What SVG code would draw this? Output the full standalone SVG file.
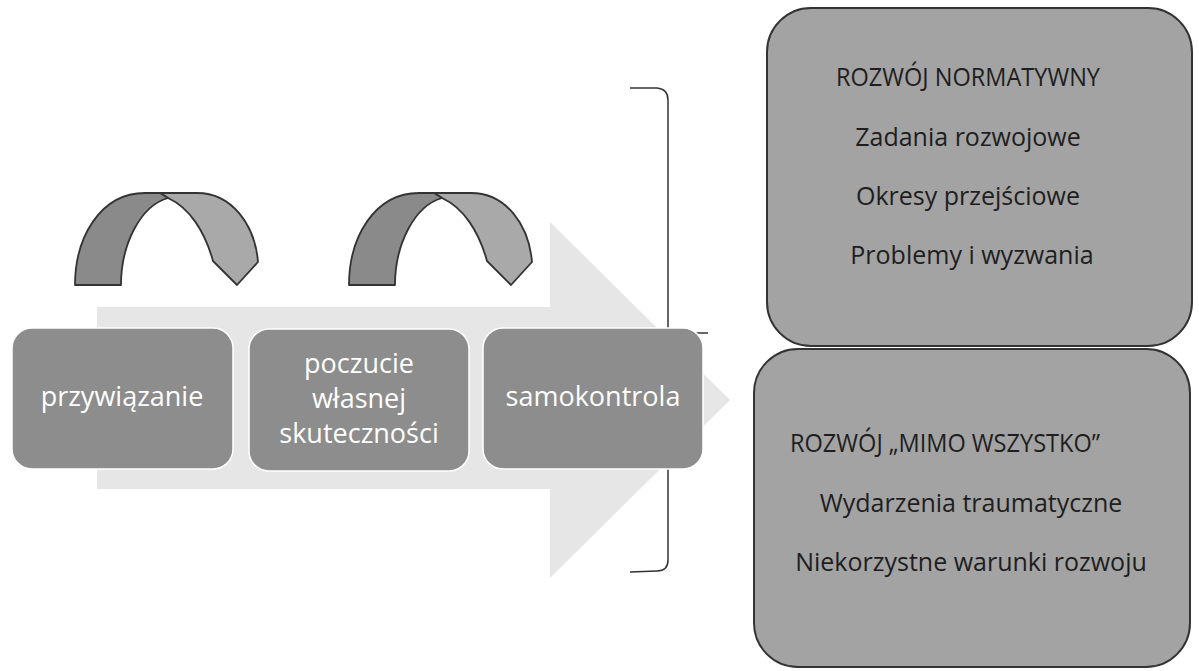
<svg xmlns="http://www.w3.org/2000/svg" width="1199" height="671" viewBox="0 0 1199 671">
  <style>
    .bg { fill: #ffffff; }
    .bigarrow { fill: #e6e6e6; }
    .stage { fill: #8d8d8d; stroke: #ffffff; stroke-width: 1.5; }
    .stage-text { font-family: "Open Sans", "Noto Sans", sans-serif; font-size: 27px; fill: #ffffff; text-anchor: middle; }
    .panel { fill: #a3a3a3; stroke: #333333; stroke-width: 2; }
    .panel-text { font-family: "Open Sans", "Noto Sans", sans-serif; font-size: 25px; fill: #1e1e1e; text-anchor: middle; }
    .arch-dark { fill: #8a8a8a; stroke: #333333; stroke-width: 1.8; stroke-linejoin: round; }
    .arch-light { fill: #a9a9a9; stroke: #333333; stroke-width: 1.8; stroke-linejoin: round; }
    .bracket { fill: none; stroke: #333333; stroke-width: 1.5; }
  </style>
  <defs>
    <g id="archShape">
      <path class="arch-light" d="M160,193 L197,193 C232,193 255,225 258,262 L237,285 L213,261 C205,232 190,208 168,198 Z"/>
      <path class="arch-dark" d="M75,285 C75,238 100,193 145,193 L160,193 L168,198 C140,206 121,245 121,285 Z"/>
    </g>
  </defs>
  <rect class="bg" x="0" y="0" width="1199" height="671"/>

  <g id="flow-arrow">
    <path class="bigarrow" d="M97,307 L550,307 L550,222 L730,400 L550,578 L550,489 L97,489 Z"/>
  </g>

  <g id="connectors">
    <g id="arch-1"><use href="#archShape"/></g>
    <g id="arch-2"><use href="#archShape" transform="translate(274,0)"/></g>
    <path id="bracket" class="bracket" d="M630,88 L657,88 Q668,89 668,100 L668,560 Q668,571 657,571 L630,572"/>
    <path id="bracket-tick" class="bracket" d="M695,333 L708,333"/>
  </g>

  <g id="node-przywiazanie">
    <rect class="stage" x="12" y="328" width="221" height="141" rx="20"/>
    <text class="stage-text" x="122" y="406">przywiązanie</text>
  </g>

  <g id="node-poczucie">
    <rect class="stage" x="249" y="329" width="220" height="142" rx="20"/>
    <text class="stage-text" x="359" y="373">poczucie</text>
    <text class="stage-text" x="359" y="408">własnej</text>
    <text class="stage-text" x="359" y="443">skuteczności</text>
  </g>

  <g id="node-samokontrola">
    <rect class="stage" x="483" y="328" width="220" height="141" rx="20"/>
    <text class="stage-text" x="593" y="406">samokontrola</text>
  </g>

  <g id="node-normatywny">
    <rect class="panel" x="767" y="8" width="425" height="338" rx="44"/>
    <text class="panel-text" x="836" y="86" style="text-anchor:start" textLength="264" lengthAdjust="spacingAndGlyphs">ROZWÓJ NORMATYWNY</text>
    <text class="panel-text" x="968" y="146">Zadania rozwojowe</text>
    <text class="panel-text" x="968" y="205">Okresy przejściowe</text>
    <text class="panel-text" x="972" y="264">Problemy i wyzwania</text>
  </g>

  <g id="node-mimo-wszystko">
    <rect class="panel" x="754" y="349" width="436" height="318" rx="44"/>
    <text class="panel-text" x="790" y="452" style="text-anchor:start" textLength="310" lengthAdjust="spacingAndGlyphs">ROZWÓJ „MIMO WSZYSTKO”</text>
    <text class="panel-text" x="971" y="512">Wydarzenia traumatyczne</text>
    <text class="panel-text" x="971" y="571">Niekorzystne warunki rozwoju</text>
  </g>
</svg>
